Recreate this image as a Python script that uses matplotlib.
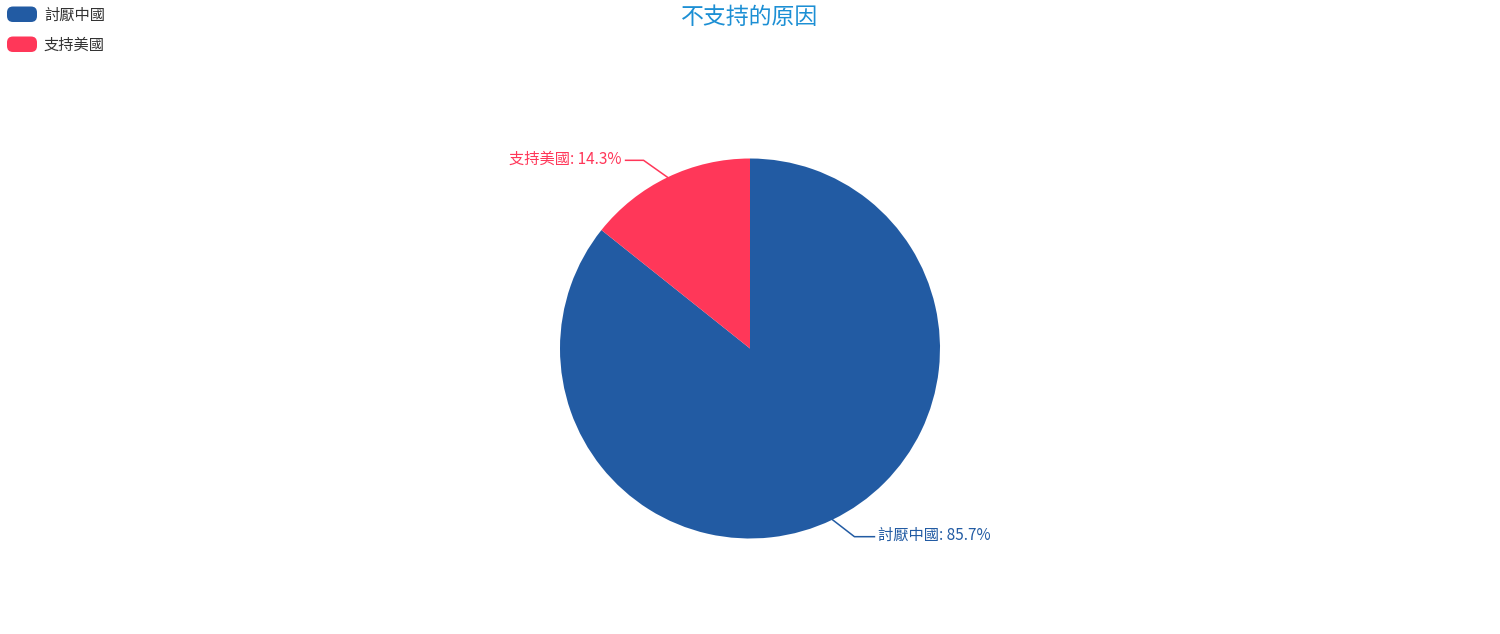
import numpy as np
import matplotlib
matplotlib.use("Agg")
import matplotlib.pyplot as plt
from matplotlib.patches import FancyBboxPatch
from matplotlib.lines import Line2D

plt.rcParams['font.family'] = ['Noto Sans CJK TC', 'DejaVu Sans']

title = "不支持的原因"
categories = ["討厭中國", "支持美國"]
values = [6, 1]
colors = ["#225BA3", "#FF3759"]

W, H = 1500, 634
fig = plt.figure(figsize=(W / 100, H / 100), dpi=100)
fig.patch.set_facecolor("white")

def fx(x):
    return x / W

def fy(y):
    return 1 - y / H

# title
fig.text(fx(750), fy(17.5), title, ha="center", va="center", fontsize=16.5, color="#1C8FD4")

# legend
for i, (cat, col) in enumerate(zip(categories, colors)):
    yc = 14.5 + 30 * i
    box = FancyBboxPatch((fx(7), fy(yc + 7.5)), fx(30), 15.5 / H,
                         boxstyle="round,pad=0,rounding_size=0.004",
                         transform=fig.transFigure, facecolor=col, edgecolor="none",
                         mutation_aspect=W / H)
    fig.patches.append(box)
    fig.text(fx(44), fy(yc + 0.5), cat, ha="left", va="center", fontsize=11, color="#333333")

# pie
cx, cy, r = 750, 348.5, 190
ax = fig.add_axes([fx(cx - r), fy(cy + r), 2 * r / W, 2 * r / H])
wedges, _ = ax.pie(values, colors=colors, startangle=90, counterclock=False,
                   radius=1, wedgeprops=dict(linewidth=0))
ax.set_xlim(-1, 1)
ax.set_ylim(-1, 1)
ax.axis("off")

total = sum(values)
fig.canvas.draw()
for w, cat, val, col in zip(wedges, categories, values, colors):
    mid = np.deg2rad((w.theta1 + w.theta2) / 2)
    ex, ey = ax.transData.transform((np.cos(mid), np.sin(mid)))
    side = 1 if np.cos(mid) >= 0 else -1
    if side > 0:
        bx, by = ex + 22, ey - 17
        hx = bx + 20
    else:
        bx, by = ex - 24, ey + 17
        hx = bx - 18
    ln = Line2D([ex, bx, hx], [ey, by, by], color=col, linewidth=1.1, transform=None)
    fig.lines.append(ln)
    pct = 100 * val / total
    tx = hx + 4 * side
    fig.text(tx / W, (by + 1.5) / H, f"{cat}: {pct:.1f}%", ha="left" if side > 0 else "right",
             va="center", fontsize=11, color=col)

fig.savefig("out.png", dpi=100, facecolor="white")
